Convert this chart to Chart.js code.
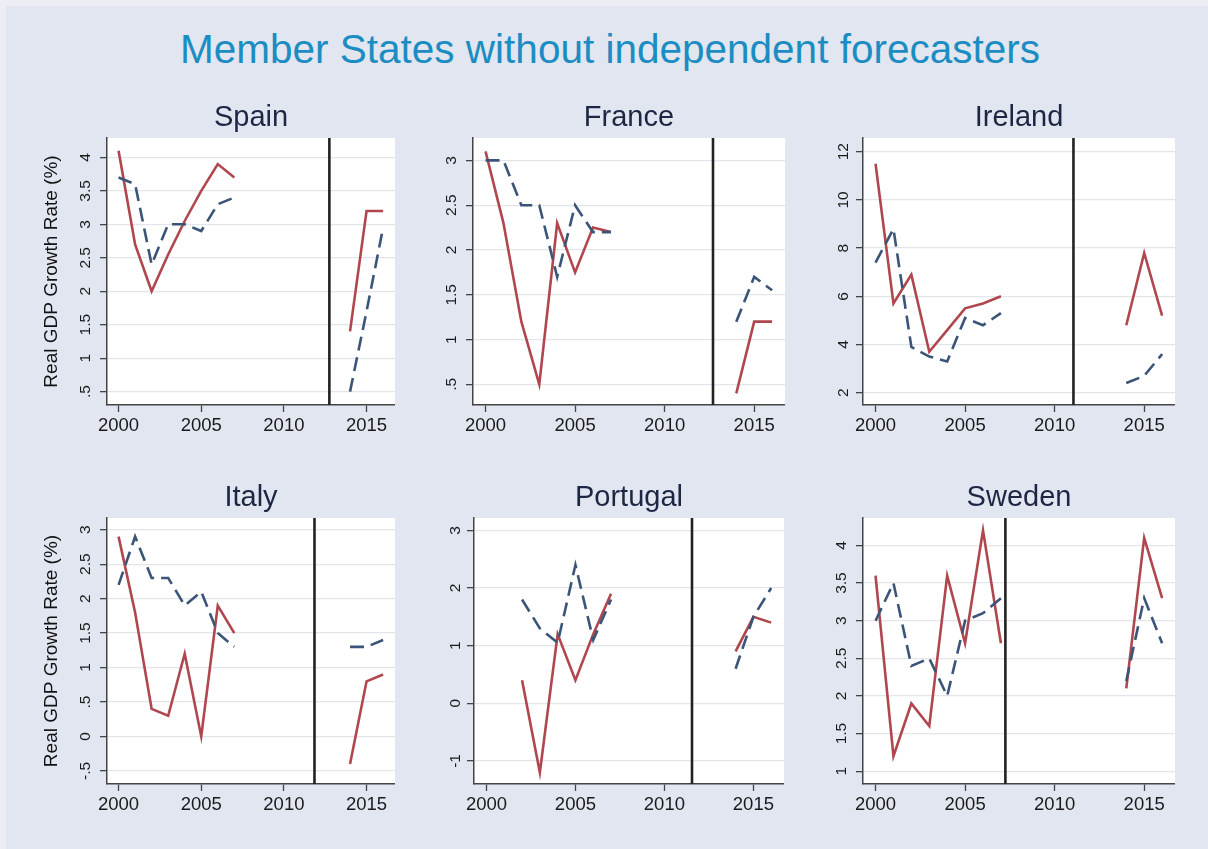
<!DOCTYPE html>
<html><head><meta charset="utf-8">
<script src="https://cdn.jsdelivr.net/npm/chart.js@4.4.1/dist/chart.umd.min.js"></script>
<style>
html,body{margin:0;padding:0;}
body{width:1208px;height:849px;background:#e2e6f0;position:relative;overflow:hidden;font-family:"Liberation Sans",Arial,sans-serif;}
#frame{position:absolute;left:0;top:0;width:1208px;height:849px;box-shadow:inset 6px 6px 0 #eceef4;}
#title{position:absolute;left:6px;width:1208px;top:29px;line-height:40px;text-align:center;color:#1b8dc2;font-size:40.5px;white-space:nowrap;}
.panel{position:absolute;}
</style></head><body>
<div id="frame"></div>
<div id="title">Member States without independent forecasters</div>
<script>
// ---------- data ----------
const years = [2000,2001,2002,2003,2004,2005,2006,2007,2008,2009,2010,2011,2012,2013,2014,2015,2016];
const countries = ['Spain','France','Ireland','Italy','Portugal','Sweden'];
const xTicks = [2000,2005,2010,2015];

const spainOutturn   = [4.1,2.7,2.0,2.55,3.05,3.5,3.9,3.7,null,null,null,null,null,null,1.4,3.2,3.2];
const spainForecast  = [3.7,3.6,2.4,3.0,3.0,2.9,3.3,3.4,null,null,null,null,null,null,0.5,1.7,2.95];
const franceOutturn  = [3.1,2.3,1.2,0.5,2.3,1.75,2.25,2.2,null,null,null,null,null,null,0.4,1.2,1.2];
const franceForecast = [3.0,3.0,2.5,2.5,1.7,2.5,2.2,2.2,null,null,null,null,null,null,1.2,1.7,1.55];
const irelandOutturn = [11.5,5.7,6.9,3.7,4.6,5.5,5.7,6.0,null,null,null,null,null,null,4.8,7.8,5.2];
const irelandForecast= [7.4,8.8,3.9,3.5,3.3,5.1,4.8,5.3,null,null,null,null,null,null,2.4,2.7,3.6];
const italyOutturn   = [2.9,1.8,0.4,0.3,1.2,0.0,1.9,1.5,null,null,null,null,null,null,-0.4,0.8,0.9];
const italyForecast  = [2.2,2.9,2.3,2.3,1.9,2.1,1.5,1.3,null,null,null,null,null,null,1.3,1.3,1.4];
const portugalOutturn  = [null,null,0.4,-1.2,1.2,0.4,1.2,1.9,null,null,null,null,null,null,0.9,1.5,1.4];
const portugalForecast = [null,null,1.8,1.3,1.05,2.4,1.1,1.8,null,null,null,null,null,null,0.6,1.5,2.0];
const swedenOutturn  = [3.6,1.2,1.9,1.6,3.6,2.7,4.2,2.7,null,null,null,null,null,null,2.1,4.1,3.3];
const swedenForecast = [3.0,3.5,2.4,2.5,2.0,3.0,3.1,3.3,null,null,null,null,null,null,2.2,3.3,2.7];

const breakYears = [2012.75, 2012.7, 2011.05, 2011.85, 2011.55, 2007.25];

const spainYTicks    = [0.5,1,1.5,2,2.5,3,3.5,4];
const franceYTicks   = [0.5,1,1.5,2,2.5,3];
const irelandYTicks  = [2,4,6,8,10,12];
const italyYTicks    = [-0.5,0,0.5,1,1.5,2,2.5,3];
const portugalYTicks = [-1,0,1,2,3];
const swedenYTicks   = [1,1.5,2,2.5,3,3.5,4];

const yMins = [0.3, 0.27, 1.49, -0.69, -1.4, 0.83];
const yMaxs = [4.29, 3.25, 12.57, 3.17, 3.215, 4.365];

const outturns  = [spainOutturn, franceOutturn, irelandOutturn, italyOutturn, portugalOutturn, swedenOutturn];
const forecasts = [spainForecast, franceForecast, irelandForecast, italyForecast, portugalForecast, swedenForecast];
const yTickSets = [spainYTicks, franceYTicks, irelandYTicks, italyYTicks, portugalYTicks, swedenYTicks];

// ---------- layout ----------
const boxes = [
  {left:0,   top:98,  width:395, height:352, yw:107, ytitle:true},
  {left:400, top:98,  width:385, height:352, yw:73,  ytitle:false},
  {left:800, top:98,  width:375, height:352, yw:63,  ytitle:false},
  {left:0,   top:478, width:395, height:351, yw:107, ytitle:true},
  {left:400, top:478, width:384, height:351, yw:74,  ytitle:false},
  {left:800, top:478, width:375, height:351, yw:63,  ytitle:false}
];

const FONT = "'Liberation Sans', Arial, Helvetica, sans-serif";
Chart.defaults.font.family = FONT;

const plotBg = {
  id: 'plotBg',
  beforeDraw(chart) {
    const {ctx, chartArea: a} = chart;
    ctx.save();
    ctx.fillStyle = '#ffffff';
    ctx.fillRect(a.left, a.top, a.right - a.left, a.bottom - a.top);
    ctx.restore();
  }
};
const centerTitle = {
  id: 'centerTitle',
  afterLayout(chart) {
    const tb = chart.titleBlock, a = chart.chartArea;
    if (tb) { tb.left = a.left; tb.right = a.right; tb.width = a.right - a.left; }
  }
};

function fmt(v) {
  const s = String(+Number(v).toFixed(2));
  return s.replace(/^(-?)0\./, '$1.');
}

countries.forEach((name, i) => {
  const b = boxes[i];
  const div = document.createElement('div');
  div.className = 'panel';
  div.style.left = b.left + 'px';
  div.style.top = b.top + 'px';
  const cv = document.createElement('canvas');
  cv.width = b.width; cv.height = b.height;
  cv.style.width = b.width + 'px'; cv.style.height = b.height + 'px';
  div.appendChild(cv);
  document.body.appendChild(div);

  const toXY = arr => years.map((yr, k) => ({x: yr, y: arr[k]}));
  new Chart(cv.getContext('2d'), {
    type: 'line',
    data: {
      datasets: [
        { label: 'Break', data: [{x: breakYears[i], y: yMins[i]}, {x: breakYears[i], y: yMaxs[i]}],
          borderColor: '#222222', borderWidth: 2.6, pointRadius: 0, fill: false },
        { label: 'Forecast', data: toXY(forecasts[i]), borderColor: '#3b5578', borderWidth: 2.6,
          borderDash: [14, 7], pointRadius: 0, spanGaps: false, tension: 0, fill: false },
        { label: 'Outturn', data: toXY(outturns[i]), borderColor: '#b0474f', borderWidth: 2.6,
          pointRadius: 0, spanGaps: false, tension: 0, fill: false }
      ]
    },
    options: {
      responsive: false,
      animation: false,
      devicePixelRatio: 1,
      layout: { padding: 0 },
      plugins: {
        legend: { display: false },
        tooltip: { enabled: false },
        title: { display: true, text: name, color: '#1d2744', font: { size: 29, weight: 'normal' },
                 padding: { top: 3, bottom: 2.2 } }
      },
      scales: {
        x: {
          type: 'linear', min: 1999.3, max: 2016.72,
          afterBuildTicks: s => { s.ticks = xTicks.map(v => ({value: v})); },
          afterFit: s => { s.height = 45; },
          grid: { drawOnChartArea: false, drawTicks: true, tickLength: 7, tickColor: '#444', tickWidth: 1.3 },
          border: { display: true, color: '#444', width: 1.5 },
          ticks: { color: '#1a1a1a', font: { size: 18.5 }, padding: 3, maxRotation: 0, minRotation: 0,
                   autoSkip: false, callback: v => String(v) }
        },
        y: {
          type: 'linear', min: yMins[i], max: yMaxs[i],
          afterBuildTicks: s => { s.ticks = yTickSets[i].map(v => ({value: v})); },
          afterFit: s => { s.width = b.yw; },
          grid: { color: '#e3e5ea', lineWidth: 1.3, tickLength: 7, tickColor: '#444', tickWidth: 1.3 },
          border: { display: true, color: '#444', width: 1.5 },
          ticks: { color: '#1a1a1a', font: { size: 15.5 }, minRotation: 90, maxRotation: 90, crossAlign: 'center',
                   padding: 4, autoSkip: false, callback: v => fmt(v) },
          title: { display: b.ytitle, text: 'Real GDP Growth Rate (%)', color: '#111', font: { size: 19 },
                   padding: { top: 40.6, bottom: 0 } }
        }
      }
    },
    plugins: [plotBg, centerTitle]
  });
});
</script>
</body></html>
